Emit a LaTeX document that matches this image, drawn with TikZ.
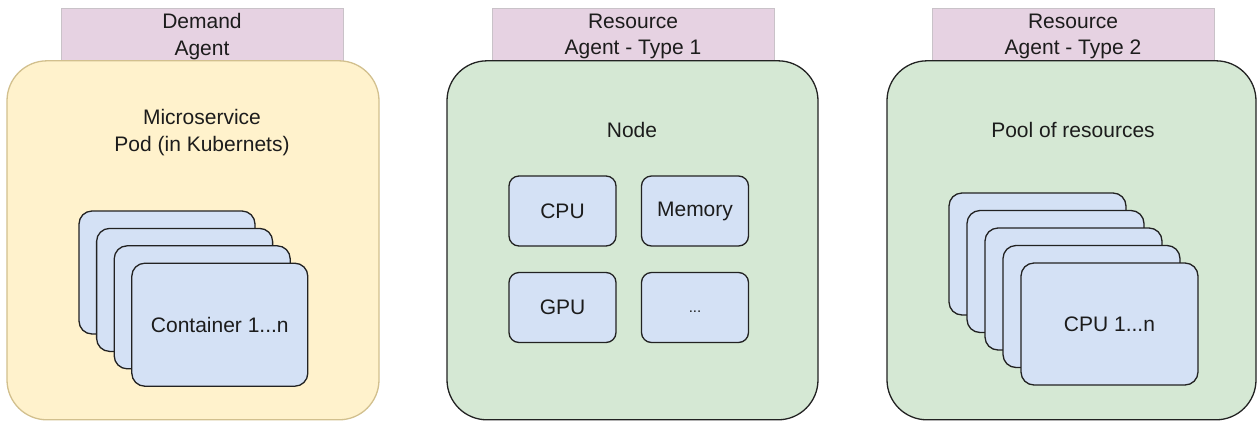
\documentclass[tikz,border=0pt]{standalone}
\usepackage{fontspec}
\setmainfont{Liberation Sans}
\definecolor{tagfill}{HTML}{E6D2E2}
\definecolor{tagline}{HTML}{C9C2C8}
\definecolor{podfill}{HTML}{FFF2CC}
\definecolor{podline}{HTML}{D2C08E}
\definecolor{hostfill}{HTML}{D5E8D4}
\definecolor{partfill}{HTML}{D4E1F5}
\definecolor{inkline}{HTML}{222222}
\definecolor{inktext}{HTML}{1C1C1C}
\begin{document}
\begin{tikzpicture}[x=1bp,y=-1bp,
  every node/.style={inner sep=0pt,outer sep=0pt,text=inktext,align=center,
    font=\fontsize{21bp}{26.5bp}\selectfont},
  agenttag/.style={draw=tagline,fill=tagfill,line width=0.8bp,
    minimum width=282bp,minimum height=54bp},
  panel/.style={rounded corners=40bp,line width=1.3bp,minimum height=359bp},
  podpanel/.style={panel,draw=podline,fill=podfill,minimum width=372bp},
  hostpanel/.style={panel,draw=inkline,fill=hostfill},
  card/.style={draw=inkline,fill=partfill,line width=1.3bp,rounded corners=13bp},
  part/.style={draw=inkline,fill=partfill,line width=1.3bp,rounded corners=10bp,
    minimum width=107bp,minimum height=70bp}]
\useasboundingbox (0,0) rectangle (1257,421);

% agent tags above each panel
\node[agenttag] (tagA) at (202,35) {};
\node[agenttag] (tagB) at (633,35) {};
\node[agenttag] (tagC) at (1073,35) {};
\node[yshift=-1.5bp] (tagAtext) at (tagA.center) {Demand\\Agent};
\node[yshift=-1.5bp] (tagBtext) at (tagB.center) {Resource\\Agent - Type 1};
\node[yshift=-1.5bp] (tagCtext) at (tagC.center) {Resource\\Agent - Type 2};

% panels
\node[podpanel] (pod) at (193,240.3) {};
\node[hostpanel,minimum width=371bp] (host) at (632.5,240.3) {};
\node[hostpanel,minimum width=369bp] (pool) at (1071.5,240.3) {};

% demand agent: microservice pod with stacked containers
\node (podtitle) at (202,132.5) {Microservice\\Pod (in Kubernets)};
\foreach \i in {0,...,3}{
  \node[card,minimum width=176bp,minimum height=123bp,anchor=north west]
    (ctr\i) at ({79+17.6*\i},{211+17.4*\i}) {};
}
\node (ctrlabel) at (ctr3.center) {Container 1...n};

% resource agent type 1: node with its resources
\node (hosttitle) at (632,130) {Node};
\node[part] (cpu) at (562.5,211) {CPU};
\node[part] (mem) at (695,211) {Memory};
\node[part] (gpu) at (562.5,307.5) {GPU};
\node[part] (more) at (695,307.5) {};
\node[yshift=-4bp] (moretext) at (more.center) {\fontsize{15bp}{16bp}\selectfont ...};

% resource agent type 2: pool of stacked CPUs
\node (pooltitle) at (1073,130) {Pool of resources};
\foreach \i in {0,...,4}{
  \node[card,minimum width=177bp,minimum height=122bp,anchor=north west]
    (cpu\i) at ({949+18*\i},{193+17.5*\i}) {};
}
\node (cpulabel) at (cpu4.center) {CPU 1...n};
\end{tikzpicture}
\end{document}
